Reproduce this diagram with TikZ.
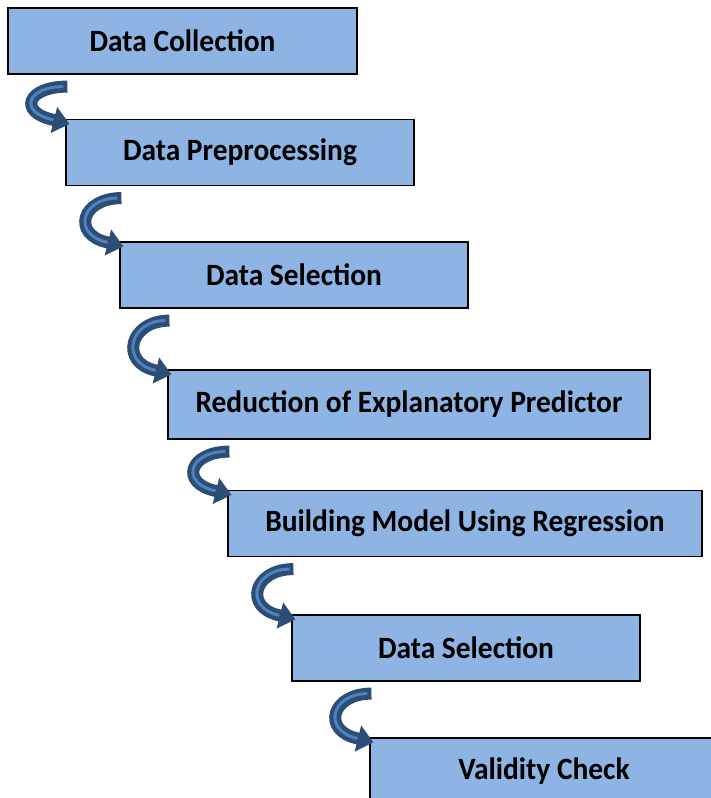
\documentclass[tikz,border=0pt]{standalone}
\usepackage{fontspec}
\setmainfont{Carlito}[FakeStretch=0.95]
\usepackage{xcolor}
\usetikzlibrary{arrows.meta, positioning, calc}

\definecolor{boxfill}{HTML}{8EB4E3}
\definecolor{curldark}{HTML}{2C4D75}
\definecolor{curllight}{HTML}{4F81BD}

\begin{document}
\begin{tikzpicture}[
    x=1pt, y=-1pt,
    stage/.style={rectangle, draw=black, line width=1.2pt, fill=boxfill, minimum height=66pt,
        font=\fontsize{31}{34}\selectfont\bfseries, inner sep=0pt},
    curl/.style={-{Triangle[width=26pt,length=16pt]}, line width=12pt, curldark,
        postaction={draw=curllight, line width=3pt, -, shorten >=18pt, shorten <=4pt}}
]
\useasboundingbox (0,0) rectangle (711,798);

% stages
\node[stage, minimum width=349pt] (collect) at (182.5,41) {Data Collection};
\node[stage, minimum width=348pt] (prep) at (240,152.5) {Data Preprocessing};
\node[stage, minimum width=348pt] (select) at (294,275) {Data Selection};
\node[stage, minimum width=482pt, minimum height=69pt] (reduce) at (409,404.5) {Reduction of Explanatory Predictor};
\node[stage, minimum width=474pt] (build) at (465,523.5) {Building Model Using Regression};
\node[stage, minimum width=348pt] (select2) at (466,648) {Data Selection};
\node[stage, minimum width=348pt] (valid) at (544,771) {Validity Check};

% curved arrows between stages
\foreach \a/\b in {collect/prep, prep/select, select/reduce, reduce/build, build/select2, select2/valid}{
    \draw[curl] ([xshift=2pt,yshift=-12pt]\a.south -| \b.west)
        .. controls +(-40pt,0pt) and +(-36pt,8pt) .. ([xshift=-12pt,yshift=-1pt]\b.north west)
        -- ([xshift=4pt,yshift=-5pt]\b.north west);
}
\end{tikzpicture}
\end{document}
